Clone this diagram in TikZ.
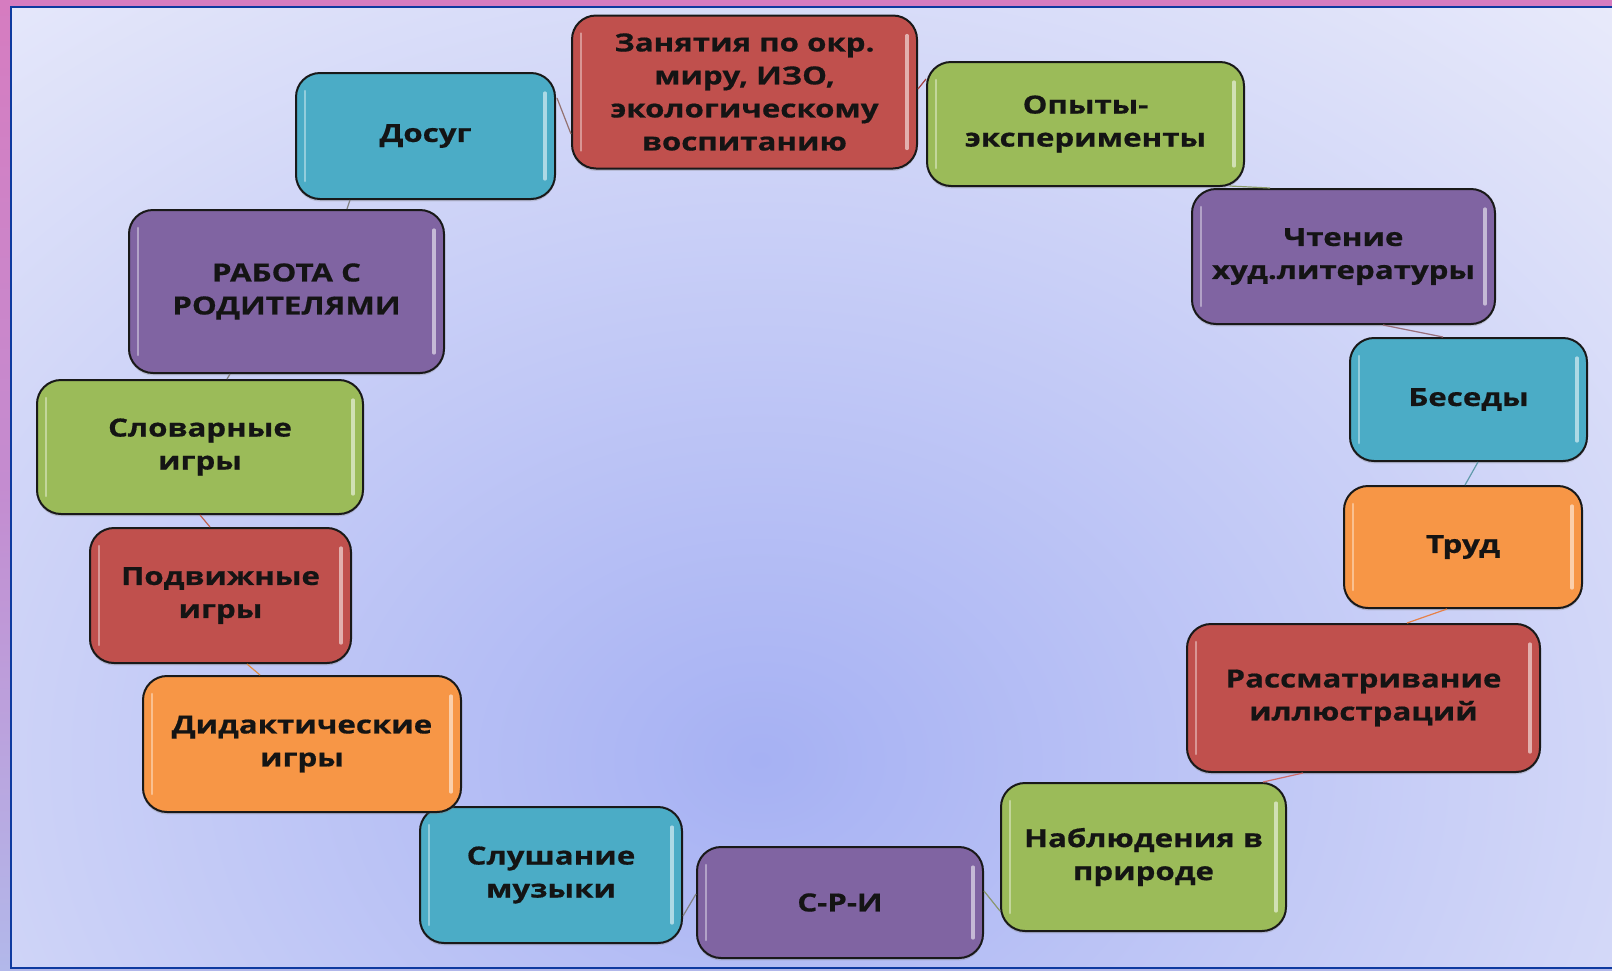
\documentclass[tikz,border=0pt]{standalone}
\usepackage{fontspec}
\newfontfamily\boxfont{Open Sans}[FakeStretch=1.25,FakeBold=0.6]
\usetikzlibrary{calc,shadows}
\definecolor{cred}{RGB}{192,80,77}
\definecolor{cblue}{RGB}{75,172,198}
\definecolor{cgreen}{RGB}{155,187,89}
\definecolor{cpurple}{RGB}{128,100,162}
\definecolor{corange}{RGB}{247,150,70}
\definecolor{bginner}{RGB}{166,177,243}
\definecolor{bgouter}{RGB}{238,239,251}
\definecolor{framepink}{RGB}{214,124,192}
\definecolor{framemid}{RGB}{196,140,208}
\definecolor{framelow}{RGB}{178,184,234}
\definecolor{frameblue}{RGB}{14,58,160}
\tikzset{
  gloss/.style={path picture={
    \draw[white,opacity=0.4,line width=1.3pt,line cap=round]
      ([xshift=4.5pt,yshift=-9pt]path picture bounding box.north west) --
      ([xshift=4.5pt,yshift=9pt]path picture bounding box.south west);
    \draw[white,opacity=0.55,line width=1.6pt,line cap=round]
      ([xshift=-5pt,yshift=-10pt]path picture bounding box.north east) --
      ([xshift=-5pt,yshift=10pt]path picture bounding box.south east);
  }},
  box/.style={draw=black!90, line width=1pt, rounded corners=12pt,
    align=center, inner sep=2pt, text=black!92,
    font=\boxfont\bfseries\fontsize{12.5}{16.5}\selectfont,
    drop shadow={shadow xshift=0pt, shadow yshift=-1.2pt, opacity=0.3},
    gloss},
  conn/.style={line width=0.6pt}
}
\begin{document}
\begin{tikzpicture}[x=0.5pt,y=-0.5pt]
\useasboundingbox (0,0) rectangle (1612,970);
% outer frame
\shade[top color=framepink, bottom color=framelow, middle color=framemid] (0,0) rectangle (1612,970);
% inner background
\begin{scope}
  \clip (11,7) rectangle (1612,968);
  \fill[bgouter] (11,7) rectangle (1612,968);
  \shade[inner color=bginner, outer color=bgouter] (-640,-340) rectangle (2160,1860);
\end{scope}
\draw[frameblue, line width=1pt] (1612,7) -- (11,7) -- (11,968) -- (1612,968);

% boxes
\node[box, fill=cred, minimum width=172.5pt, minimum height=76.5pt] (zan) at (744.5,92)
  {Занятия по окр.\\миру, ИЗО,\\экологическому\\воспитанию};
\node[box, fill=cblue, minimum width=129.5pt, minimum height=63pt] (dos) at (425.5,136) {Досуг};
\node[box, fill=cgreen, minimum width=158.5pt, minimum height=62pt] (op) at (1085.5,124) {Опыты-\\эксперименты};
\node[box, fill=cpurple, minimum width=151.5pt, minimum height=67.5pt] (cht) at (1343.5,256.5) {Чтение\\худ.литературы};
\node[box, fill=cblue, minimum width=118.5pt, minimum height=61.5pt] (bes) at (1468.5,399.5) {Беседы};
\node[box, fill=corange, minimum width=119pt, minimum height=61pt] (trud) at (1463,547) {Труд};
\node[box, fill=cred, minimum width=176.5pt, minimum height=74pt] (rass) at (1363.5,698) {Рассматривание\\иллюстраций};
\node[box, fill=cgreen, minimum width=142.5pt, minimum height=74pt] (nab) at (1143.5,857) {Наблюдения в\\природе};
\node[box, fill=cpurple, minimum width=143pt, minimum height=55.5pt] (sri) at (840,902.5) {С-Р-И};
\node[box, fill=cblue, minimum width=131pt, minimum height=68pt] (slu) at (551,875) {Слушание\\музыки};
\node[box, fill=corange, minimum width=159pt, minimum height=68pt] (did) at (302,744) {Дидактические\\игры};
\node[box, fill=cred, minimum width=130.5pt, minimum height=67.5pt] (pod) at (220.5,595.5) {Подвижные\\игры};
\node[box, fill=cgreen, minimum width=163pt, minimum height=67pt] (slov) at (200,447) {Словарные\\игры};
\node[box, fill=cpurple, minimum width=157.5pt, minimum height=81.5pt] (rab) at (286.5,291.5) {РАБОТА С\\РОДИТЕЛЯМИ};

% connectors
\draw[conn, gray!70!cred] ($(dos.east)+(1,-38)$) -- ($(zan.west)+(0,42)$);
\draw[conn, cred!85!black] ($(zan.east)+(0,-3)$) -- ($(op.west)+(0,-45)$);
\draw[conn, cgreen!50!gray] ($(op.south)+(144,-1)$) -- ($(cht.north)+(-73.5,0)$);
\draw[conn, cpurple!60!brown] ($(cht.south)+(39.5,0)$) -- ($(bes.north)+(-25.5,0)$);
\draw[conn, cblue!60!gray] ($(bes.south)+(9.5,0)$) -- ($(trud.north)+(2,0)$);
\draw[conn, corange!70!cred] ($(trud.south)+(-16,0)$) -- ($(rass.north)+(43.5,0)$);
\draw[conn, cred!75!pink] ($(rass.south)+(-60.5,0)$) -- ($(nab.north)+(119.5,0)$);
\draw[conn, cgreen!40!gray] ($(nab.west)+(0,54)$) -- ($(sri.east)+(0,-11.5)$);
\draw[conn, gray] ($(sri.west)+(0,-8.5)$) -- ($(slu.east)+(0,41)$);
\draw[conn, corange!60!brown] ($(did.north)+(-42,0)$) -- ($(pod.south)+(26.5,0)$);
\draw[conn, cred!70!brown] ($(pod.north)+(-10.5,0)$) -- (slov.south);
\draw[conn, gray] ($(slov.north)+(27,0)$) -- ($(rab.south)+(-56.5,0)$);
\draw[conn, gray] ($(rab.north)+(60.5,0)$) -- ($(dos.south)+(-75.5,0)$);
\end{tikzpicture}
\end{document}
